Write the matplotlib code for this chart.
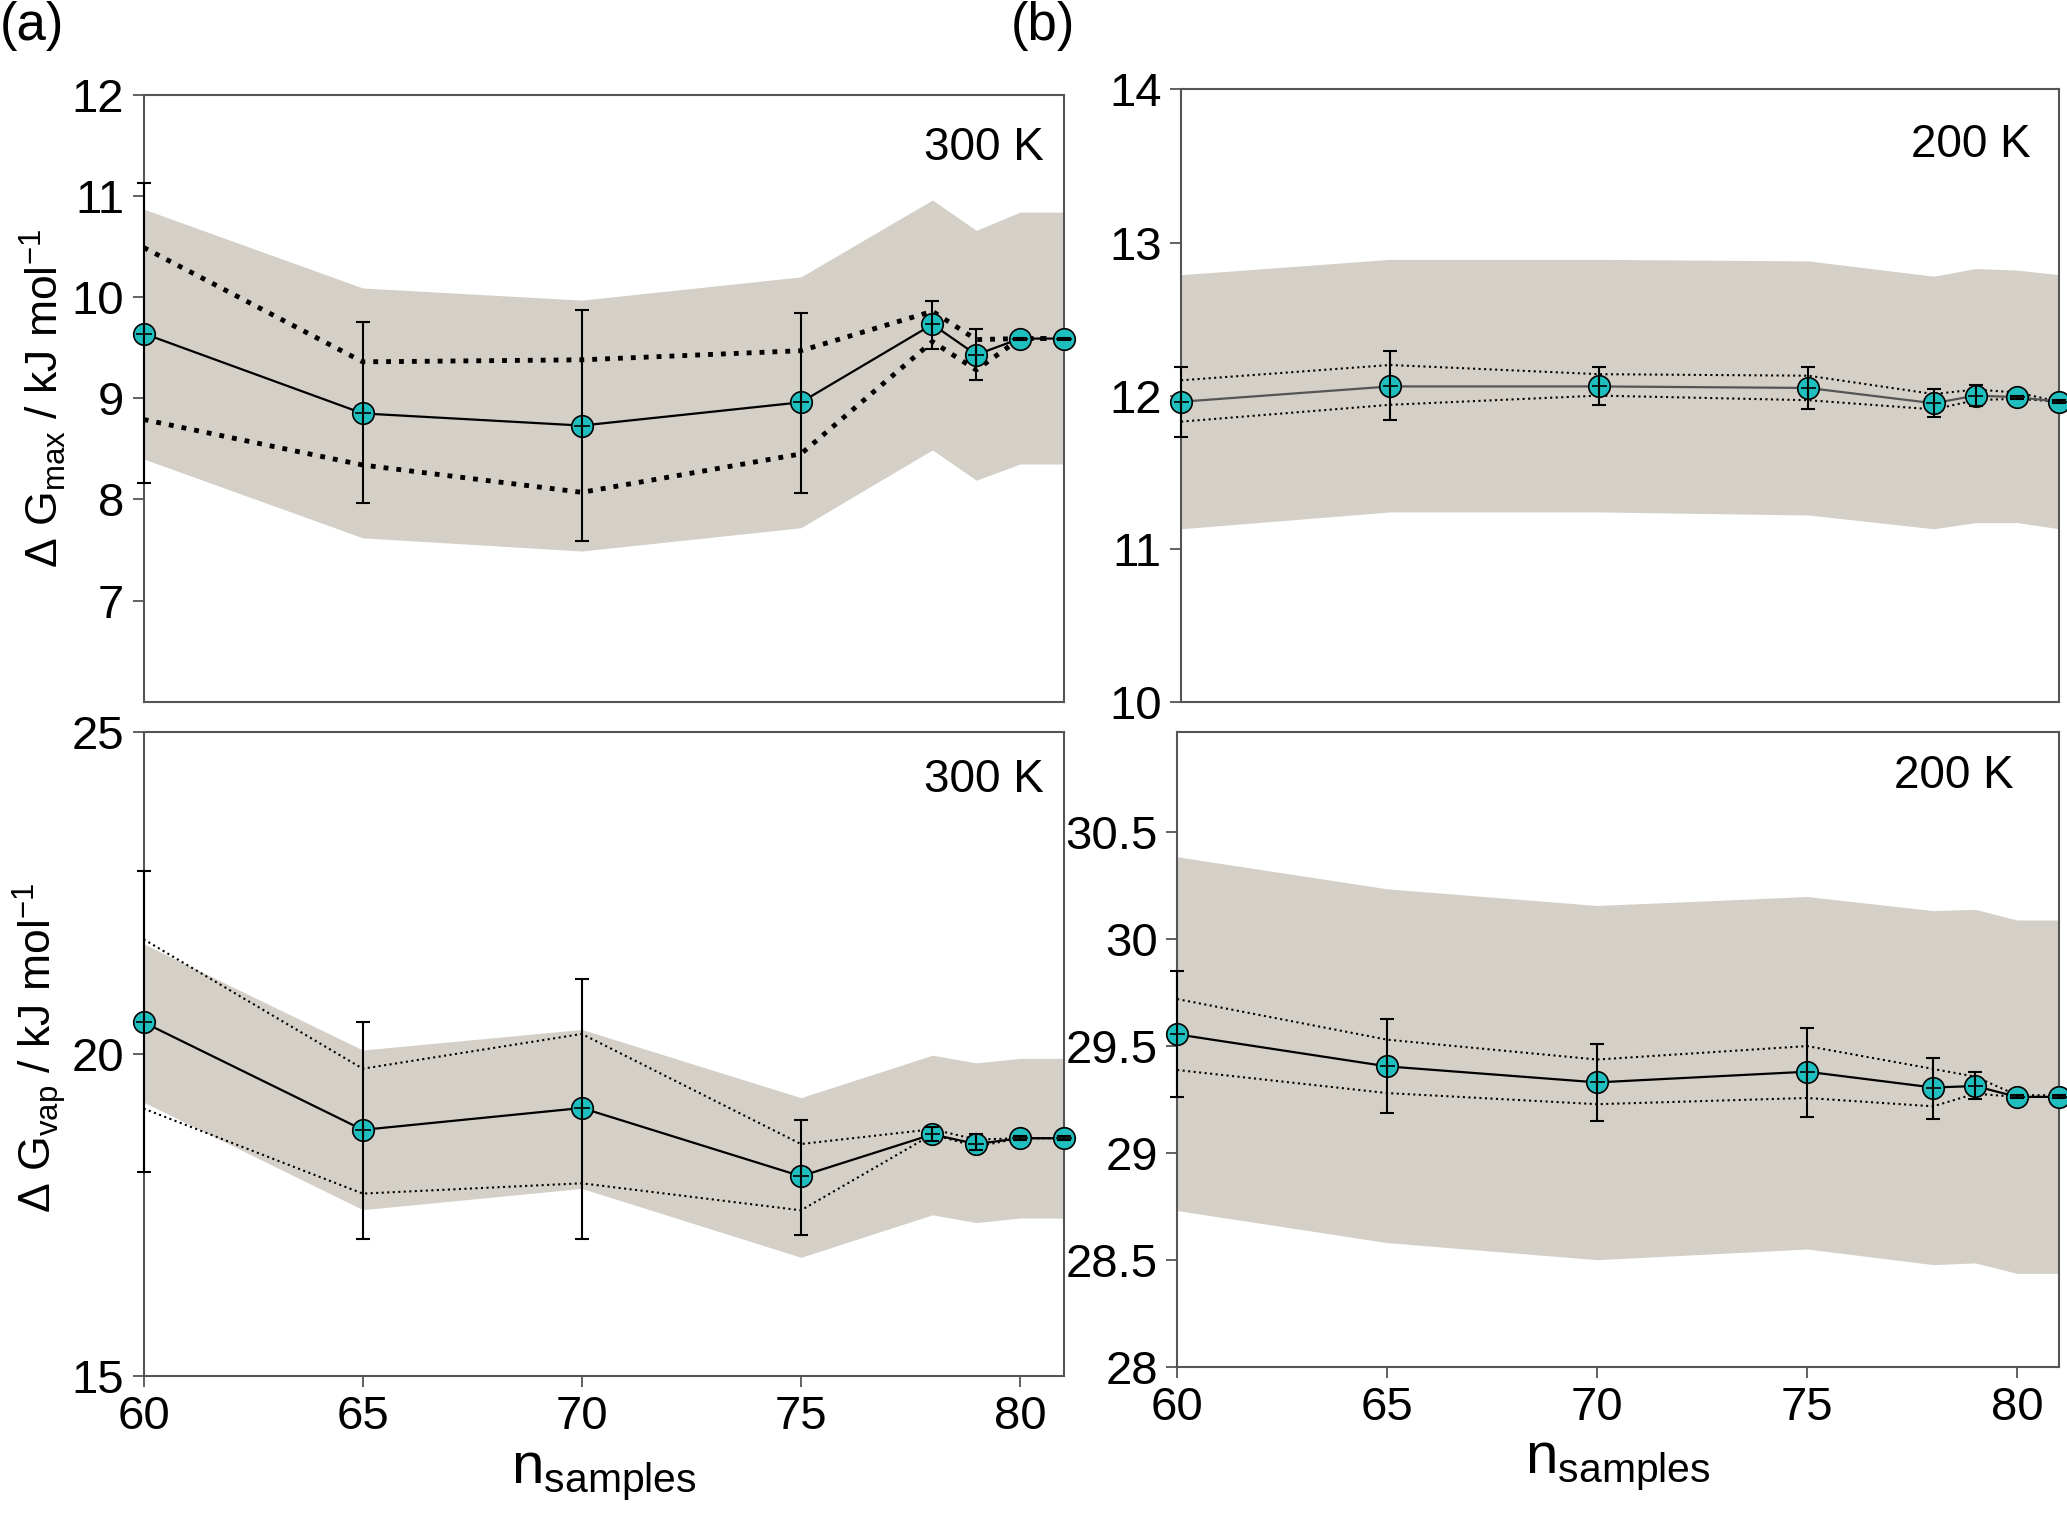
import numpy as np
import matplotlib
matplotlib.use("Agg")
import matplotlib.pyplot as plt

plt.rcParams['font.family'] = ['Liberation Sans', 'DejaVu Sans']
plt.rcParams['mathtext.default'] = 'regular'

n_samples = [60, 65, 70, 75, 78, 79, 80, 81]

# (a) top: dG_max at 300 K
gmax300 = [9.64, 8.85, 8.73, 8.96, 9.73, 9.43, 9.59, 9.59]
gmax300_err_hi = [11.13, 9.75, 9.87, 9.84, 9.96, 9.68, 9.60, 9.60]
gmax300_err_lo = [8.16, 7.96, 7.59, 8.06, 9.49, 9.18, 9.58, 9.58]
gmax300_dot_hi = [10.49, 9.36, 9.38, 9.47, 9.86, 9.58, 9.59, 9.59]
gmax300_dot_lo = [8.79, 8.34, 8.07, 8.45, 9.56, 9.28, 9.59, 9.59]
gmax300_band_hi = [10.87, 10.09, 9.97, 10.20, 10.96, 10.66, 10.84, 10.84]
gmax300_band_lo = [8.40, 7.62, 7.49, 7.72, 8.49, 8.19, 8.35, 8.35]

# (b) top: dG_max at 200 K
gmax200 = [11.96, 12.06, 12.06, 12.05, 11.95, 12.00, 11.99, 11.96]
gmax200_err_hi = [12.19, 12.29, 12.19, 12.19, 12.04, 12.07, 12.00, 11.97]
gmax200_err_lo = [11.73, 11.84, 11.94, 11.91, 11.86, 11.93, 11.98, 11.95]
gmax200_dot_hi = [12.10, 12.20, 12.14, 12.13, 12.01, 12.04, 12.02, 11.96]
gmax200_dot_lo = [11.83, 11.94, 12.00, 11.97, 11.91, 11.97, 11.98, 11.96]
gmax200_band_hi = [12.79, 12.89, 12.89, 12.88, 12.78, 12.83, 12.82, 12.79]
gmax200_band_lo = [11.13, 11.24, 11.24, 11.22, 11.13, 11.17, 11.17, 11.13]

# (a) bottom: dG_vap at 300 K
gvap300 = [20.49, 18.82, 19.16, 18.10, 18.75, 18.60, 18.69, 18.69]
gvap300_err_hi = [22.84, 20.49, 21.17, 18.98, 18.86, 18.75, 18.72, 18.72]
gvap300_err_lo = [18.16, 17.13, 17.13, 17.19, 18.64, 18.50, 18.66, 18.66]
gvap300_dot_hi = [21.78, 19.77, 20.31, 18.60, 18.83, 18.67, 18.69, 18.69]
gvap300_dot_lo = [19.15, 17.83, 17.99, 17.57, 18.75, 18.56, 18.69, 18.69]
gvap300_band_hi = [21.71, 20.06, 20.38, 19.32, 19.98, 19.86, 19.93, 19.93]
gvap300_band_lo = [19.25, 17.58, 17.91, 16.84, 17.50, 17.38, 17.45, 17.45]

# (b) bottom: dG_vap at 200 K
gvap200 = [29.555, 29.405, 29.33, 29.38, 29.306, 29.313, 29.262, 29.262]
gvap200_err_hi = [29.85, 29.625, 29.51, 29.585, 29.446, 29.38, 29.27, 29.27]
gvap200_err_lo = [29.26, 29.185, 29.15, 29.17, 29.16, 29.25, 29.255, 29.255]
gvap200_dot_hi = [29.72, 29.53, 29.437, 29.50, 29.393, 29.357, 29.27, 29.27]
gvap200_dot_lo = [29.388, 29.28, 29.228, 29.257, 29.218, 29.277, 29.262, 29.262]
gvap200_band_hi = [30.386, 30.236, 30.158, 30.20, 30.134, 30.14, 30.09, 30.09]
gvap200_band_lo = [28.73, 28.58, 28.50, 28.55, 28.477, 28.485, 28.436, 28.436]

band_color = '#d4d0c8'
marker_color = '#1fbfbf'

fig = plt.figure(figsize=(20.67, 15.14), dpi=100)
ax_tl = fig.add_axes([0.0695, 0.5365, 0.4452, 0.4009])
ax_bl = fig.add_axes([0.0695, 0.0913, 0.4452, 0.4252])
ax_tr = fig.add_axes([0.5714, 0.5365, 0.4248, 0.4044])
ax_br = fig.add_axes([0.5695, 0.0974, 0.4267, 0.4191])


def draw_panel(ax, y, err_hi, err_lo, dot_hi, dot_lo, band_hi, band_lo,
               dot_lw=1.5, line_color='black'):
    x = np.array(n_samples)
    y = np.array(y)
    ax.fill_between(x, band_lo, band_hi, color=band_color, lw=0, zorder=1)
    ax.plot(x, dot_hi, ls=':', color='black', lw=dot_lw, zorder=2)
    ax.plot(x, dot_lo, ls=':', color='black', lw=dot_lw, zorder=2)
    ax.plot(x, y, '-', color=line_color, lw=1.6, zorder=3)
    ax.plot(x, y, 'o', ms=15.5, mfc=marker_color, mec='black', mew=1.2,
            zorder=4, clip_on=False)
    yerr = [y - np.array(err_lo), np.array(err_hi) - y]
    ax.errorbar(x, y, yerr=yerr, fmt='none', ecolor='black', elinewidth=1.5,
                capsize=5, capthick=1.5, zorder=5, clip_on=False)
    # short horizontal stroke through the markers
    ax.errorbar(x, y, xerr=0.18, fmt='none', ecolor='black', elinewidth=1.2,
                capsize=0, zorder=5, clip_on=False)
    ax.set_xlim(60, 81)
    for s in ax.spines.values():
        s.set_color('#555555')
        s.set_linewidth(1.5)
    ax.tick_params(axis='both', direction='out', length=8, width=1.3,
                   color='#555555', labelsize=34, pad=6)


draw_panel(ax_tl, gmax300, gmax300_err_hi, gmax300_err_lo, gmax300_dot_hi,
           gmax300_dot_lo, gmax300_band_hi, gmax300_band_lo, dot_lw=3.5)
draw_panel(ax_tr, gmax200, gmax200_err_hi, gmax200_err_lo, gmax200_dot_hi,
           gmax200_dot_lo, gmax200_band_hi, gmax200_band_lo, line_color='#555555')
draw_panel(ax_bl, gvap300, gvap300_err_hi, gvap300_err_lo, gvap300_dot_hi,
           gvap300_dot_lo, gvap300_band_hi, gvap300_band_lo)
draw_panel(ax_br, gvap200, gvap200_err_hi, gvap200_err_lo, gvap200_dot_hi,
           gvap200_dot_lo, gvap200_band_hi, gvap200_band_lo)

ax_tl.set_ylim(6, 12)
ax_tl.set_yticks([7, 8, 9, 10, 11, 12])
ax_tr.set_ylim(10, 14)
ax_tr.set_yticks([10, 11, 12, 13, 14])
ax_bl.set_ylim(15, 25)
ax_bl.set_yticks([15, 20, 25])
ax_br.set_ylim(28, 30.97)
ax_br.set_yticks([28, 28.5, 29, 29.5, 30, 30.5])
ax_br.set_yticklabels(['28', '28.5', '29', '29.5', '30', '30.5'])

for ax in (ax_tl, ax_tr):
    ax.set_xticks([])
for ax in (ax_bl, ax_br):
    ax.set_xticks([60, 65, 70, 75, 80])
    ax.set_xlabel('n$_{samples}$', fontsize=42, labelpad=6)

ax_tl.set_ylabel('Δ G$_{max}$ / kJ mol$^{-1}$', fontsize=32)
ax_bl.set_ylabel('Δ G$_{vap}$ / kJ mol$^{-1}$', fontsize=32)
ax_tl.yaxis.set_label_coords(-0.082, 0.5)
ax_bl.yaxis.set_label_coords(-0.082, 0.51)

ax_tl.text(0.978, 0.913, '300 K', transform=ax_tl.transAxes, ha='right',
           va='center', fontsize=33)
ax_bl.text(0.978, 0.926, '300 K', transform=ax_bl.transAxes, ha='right',
           va='center', fontsize=33)
ax_tr.text(0.967, 0.91, '200 K', transform=ax_tr.transAxes, ha='right',
           va='center', fontsize=33)
ax_br.text(0.948, 0.93, '200 K', transform=ax_br.transAxes, ha='right',
           va='center', fontsize=33)

fig.text(0.0, 0.983, '(a)', fontsize=38, ha='left', va='center')
fig.text(0.489, 0.983, '(b)', fontsize=38, ha='left', va='center')

fig.savefig('out.png', dpi=100)
